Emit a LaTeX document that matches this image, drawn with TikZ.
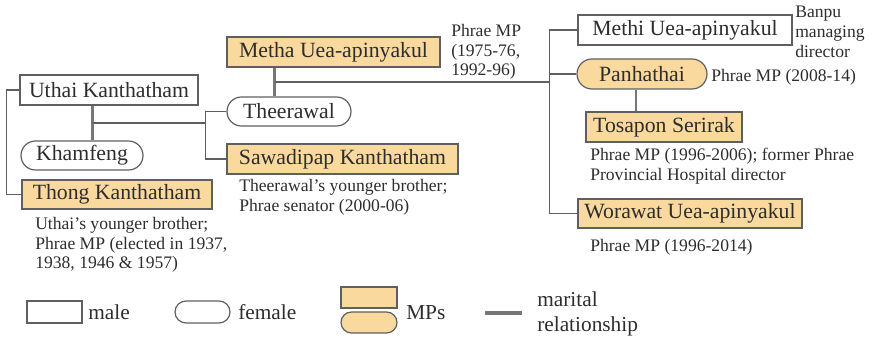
\documentclass[tikz,border=0pt]{standalone}
\usepackage{fontspec}
\setmainfont{Liberation Serif}
\usetikzlibrary{shapes.misc,calc}
\definecolor{mpFill}{RGB}{249,217,158}
\definecolor{lineGray}{RGB}{95,95,95}
\definecolor{textGray}{RGB}{45,45,45}
\newcommand\nameFont{\fontsize{16.3}{18}\selectfont}
\newcommand\noteFont{\fontsize{13.2}{14.8}\selectfont}
\newcommand\keyFont{\fontsize{16}{18.75}\selectfont}

\tikzset{
  male/.style={rectangle, draw=lineGray, line width=0.9pt, inner sep=0pt, font=\nameFont, text=textGray},
  female/.style={male, rounded rectangle},
  mp/.style={fill=mpFill},
  wh/.style 2 args={minimum width=#1*0.75pt, minimum height=#2*0.75pt},
  note/.style={font=\noteFont, text=textGray, align=left, inner sep=0pt},
  link/.style={draw=lineGray, line width=1pt},
  marital/.style={draw=lineGray!85, line width=2.2pt},
  key/.style={font=\keyFont, text=textGray, align=left, inner sep=0pt}
}

\begin{document}
\begin{tikzpicture}[x=0.75pt, y=-0.75pt]
  \useasboundingbox (0,0) rectangle (876,341);

  % Uthai and Khamfeng
  \node[male, wh={178}{30}] (uthai) at (109,90) {Uthai Kanthatham};
  \node[female, wh={122}{29}] (khamfeng) at (82,155.5) {Khamfeng};
  \node[male, mp, wh={190}{29}] (thong) at (117,194.5) {Thong Kanthatham};
  \node[note, anchor=north west] (thongnote) at (35,217) {Uthai's younger brother;\\Phrae MP (elected in 1937,\\1938, 1946 \& 1957)};

  \draw[link] (uthai.west) -- ++(-13,0) |- (thong.west);
  \coordinate (uk) at ($(khamfeng.north west)+(57,0)$);
  \draw[marital] (uk) -- (uk |- uthai.south);
  \coordinate (ukmid) at ($(uk)!0.5!(uk |- uthai.south)$);

  % Metha and Theerawal
  \node[male, mp, wh={213}{30}] (metha) at (333.5,52) {Metha Uea-apinyakul};
  \node[note, anchor=north west] (methanote) at (451,24) {Phrae MP\\(1975-76,\\1992-96)};
  \node[female, wh={124}{29}] (theerawal) at (289,111.5) {Theerawal};
  \node[male, mp, wh={231}{30}] (sawadipap) at (342.5,159) {Sawadipap Kanthatham};
  \node[note, anchor=north west] (sawadipapnote) at (239,179) {Theerawal's younger brother;\\Phrae senator (2000-06)};

  \draw[link] (theerawal.west) -- ++(-21,0) coordinate (fork1) |- (sawadipap.west);
  \draw[link] (ukmid) -- (ukmid -| fork1);
  \coordinate (tm) at ($(theerawal.north west)+(33,0)$);
  \draw[marital] (tm) -- (tm |- metha.south);
  \coordinate (tmmid) at ($(tm)!0.5!(tm |- metha.south)$);

  % children
  \node[male, wh={214}{30}] (methi) at (685,30) {Methi Uea-apinyakul};
  \node[note, anchor=north west] (methinote) at (795,6) {Banpu\\managing\\director};
  \node[female, mp, wh={130}{30}] (panhathai) at (642,74) {Panhathai};
  \node[note, anchor=west] (panhathainote) at (711,77) {Phrae MP (2008-14)};
  \node[male, mp, wh={156}{30}] (tosapon) at (664,127) {Tosapon Serirak};
  \node[note, anchor=north west] (tosaponnote) at (590,148) {Phrae MP (1996-2006); former Phrae\\Provincial Hospital director};
  \node[male, mp, wh={224}{29}] (worawat) at (690,213.5) {Worawat Uea-apinyakul};
  \node[note, anchor=west] (worawatnote) at (590,247) {Phrae MP (1996-2014)};

  \draw[link] (methi.west) -- ++(-28,0) coordinate (fork2) |- (worawat.west);
  \draw[link] (panhathai.west) -- (panhathai.west -| fork2);
  \draw[link] (tmmid) -- (tmmid -| fork2);
  \coordinate (pt) at ($(panhathai.south)+(-6,0)$);
  \draw[marital] (pt) -- (pt |- tosapon.north);

  % legend
  \node[male, wh={55}{22}] (keymale) at (54.5,312) {};
  \node[key, anchor=west] (keymaletext) at (88,312) {male};
  \node[female, wh={55}{22}] (keyfemale) at (202.5,312) {};
  \node[key, anchor=west] (keyfemaletext) at (238,312) {female};
  \node[male, mp, wh={56}{21}] (keympbox) at (369,297.5) {};
  \node[female, mp, wh={56}{21}] (keymppill) at (369,322.5) {};
  \node[key, anchor=west] (keymptext) at (406,313) {MPs};
  \coordinate (keyleft) at (485,313);
  \coordinate (keyright) at (522,313);
  \draw[marital, line width=2.8pt] (keyleft) -- (keyright);
  \node[key, anchor=west] (keymaritaltext) at (537,314) {marital\\relationship};
\end{tikzpicture}
\end{document}
